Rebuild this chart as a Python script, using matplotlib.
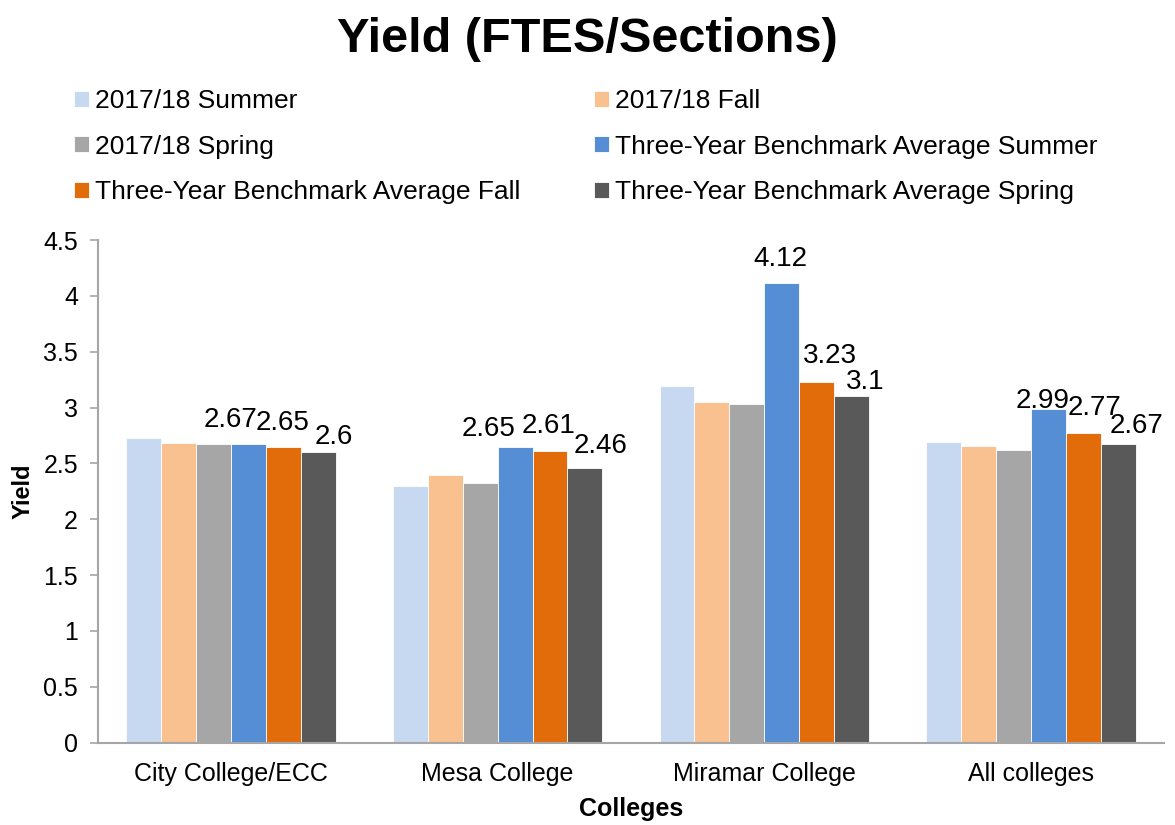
import numpy as np
import matplotlib
matplotlib.use('Agg')
from matplotlib import pyplot as plt

plt.rcParams['font.family'] = ['Liberation Sans', 'DejaVu Sans']

colleges = ['City College/ECC', 'Mesa College', 'Miramar College', 'All colleges']
seriesNames = [
    '2017/18 Summer', '2017/18 Fall', '2017/18 Spring',
    'Three-Year Benchmark Average Summer', 'Three-Year Benchmark Average Fall',
    'Three-Year Benchmark Average Spring'
]
summer1718 = [2.73, 2.30, 3.19, 2.69]
fall1718 = [2.68, 2.40, 3.05, 2.66]
spring1718 = [2.67, 2.32, 3.03, 2.62]
benchSummer = [2.67, 2.65, 4.12, 2.99]
benchFall = [2.65, 2.61, 3.23, 2.77]
benchSpring = [2.60, 2.46, 3.10, 2.67]
labelled = [False, False, False, True, True, True]

colors = ['#C6D9F0', '#F9C090', '#A6A6A6', '#558ED5', '#E36C0A', '#595959']

# nudges (pixels) for the value labels, per series then per college
labelNudge = {
    3: [(-18, 17), (-27, 11), (-1, 17), (-6, 1)],
    4: [(-1, 17), (-1, 18), (13, 19), (11, 18)],
    5: [(16, 8), (16, 15), (14, 7), (18, 11)],
}

allSeries = [summer1718, fall1718, spring1718, benchSummer, benchFall, benchSpring]

fig = plt.figure(figsize=(11.75, 8.25), dpi=100)
ax = fig.add_axes([0.083, 0.1, 0.908, 0.609])

x = np.arange(len(colleges))
barWidth = 0.131
handles = []
for i, values in enumerate(allSeries):
    offset = (i - 2.5) * barWidth
    bars = ax.bar(x + offset, values, barWidth, color=colors[i],
                  edgecolor='white', linewidth=0.6, label=seriesNames[i])
    handles.append(bars)
    if labelled[i]:
        for j, (xi, v) in enumerate(zip(x + offset, values)):
            dx, dy = labelNudge[i][j]
            ax.annotate(f'{v:g}', (xi, v), xytext=(dx, dy),
                        textcoords='offset pixels', ha='center',
                        va='baseline', fontsize=20)

ax.set_ylim(0, 4.5)
ax.set_xlim(-0.5, len(colleges) - 0.5)
ax.set_yticks(np.arange(0, 4.51, 0.5))
ax.set_yticklabels([f'{t:g}' for t in np.arange(0, 4.51, 0.5)])
ax.set_xticks(x)
ax.set_xticklabels(colleges)
ax.tick_params(axis='x', length=0, labelsize=18, pad=14)
ax.tick_params(axis='y', labelsize=18, color='#A6A6A6', length=6, width=1.2,
               pad=8)
for side in ['top', 'right']:
    ax.spines[side].set_visible(False)
for side in ['left', 'bottom']:
    ax.spines[side].set_color('#A6A6A6')
    ax.spines[side].set_linewidth(1.5)

ax.set_xlabel('Colleges', fontsize=18, fontweight='bold', labelpad=8)
ax.set_ylabel('Yield', fontsize=17, fontweight='bold', labelpad=6)

# legend fills column-wise, so reorder to read row-wise like the original
order = [0, 2, 4, 1, 3, 5]
fig.legend([handles[i] for i in order], [seriesNames[i] for i in order],
           ncol=2, loc='upper left', bbox_to_anchor=(0.043, 0.921),
           frameon=False, fontsize=19, handlelength=0.55, handleheight=0.55,
           handletextpad=0.25, columnspacing=2.78, labelspacing=0.82)

fig.suptitle('Yield (FTES/Sections)', fontsize=35, fontweight='bold', y=0.98)

fig.savefig('out.png', dpi=100)
